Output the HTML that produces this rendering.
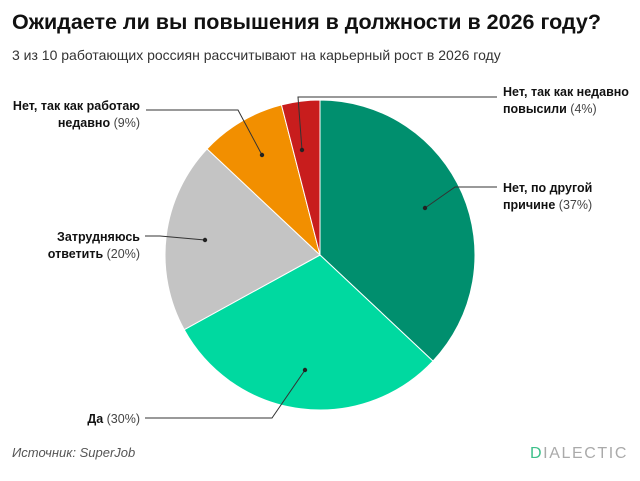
<!DOCTYPE html>
<html><head><meta charset="utf-8"><style>
body{margin:0;background:#fff;width:640px;height:476px;overflow:hidden;font-family:"Liberation Sans",sans-serif}
svg text{font-family:"Liberation Sans",sans-serif}
</style></head><body>
<svg width="640" height="476">
<text x="12" y="29" font-size="21.5" font-weight="bold" fill="#111">Ожидаете ли вы повышения в должности в 2026 году?</text>
<text x="12" y="60" font-size="14" fill="#333">3 из 10 работающих россиян рассчитывают на карьерный рост в 2026 году</text>
<g id="pie"></g>
<g id="labels"></g>
<text x="12" y="457" font-size="13" font-style="italic" fill="#555">Источник: SuperJob</text>
<text x="530" y="458" font-size="16" letter-spacing="1.6" fill="#aaa"><tspan fill="#3cc08a">D</tspan>IALECTIC</text>
</svg>
<script>
const categories=["Нет, по другой причине","Да","Затрудняюсь ответить","Нет, так как работаю недавно","Нет, так как недавно повысили"];
const values=[37,30,20,9,4];
const colors=["#008f6e","#00d9a0","#c4c4c4","#f28f00","#c81d1d"];
const cx=320,cy=255,r=155;
const ns="http://www.w3.org/2000/svg";
const pie=document.getElementById('pie');
const total=values.reduce((a,b)=>a+b,0);
let a0=0;
function pt(a,rr){return [cx+rr*Math.sin(a),cy-rr*Math.cos(a)];}
values.forEach((v,i)=>{
  const a1=a0+v/total*2*Math.PI;
  const p0=pt(a0,r),p1=pt(a1,r);
  const large=(a1-a0)>Math.PI?1:0;
  const p=document.createElementNS(ns,'path');
  p.setAttribute('d',`M${cx},${cy}L${p0[0]},${p0[1]}A${r},${r} 0 ${large} 1 ${p1[0]},${p1[1]}Z`);
  p.setAttribute('fill',colors[i]);p.setAttribute('stroke','#fff');p.setAttribute('stroke-width','1');
  
  
  pie.appendChild(p);
  a0=a1;
});
const lab=document.getElementById('labels');
const L=[
 {pts:"425,208 455,187 497,187",lines:[["Нет, по другой",""],["причине"," ("+values[0]+"%)"]],x:503,y:192,anchor:"start"},
 {pts:"305,370 272,418 145,418",lines:[["Да"," ("+values[1]+"%)"]],x:140,y:423,anchor:"end"},
 {pts:"205,240 160,236 145,236",lines:[["Затрудняюсь",""],["ответить"," ("+values[2]+"%)"]],x:140,y:241,anchor:"end"},
 {pts:"262,155 238,110 146,110",lines:[["Нет, так как работаю",""],["недавно"," ("+values[3]+"%)"]],x:140,y:110,anchor:"end"},
 {pts:"302,150 298,97 497,97",lines:[["Нет, так как недавно",""],["повысили"," ("+values[4]+"%)"]],x:503,y:96,anchor:"start"}
];
L.forEach((l,i)=>{
  const pl=document.createElementNS(ns,'polyline');
  pl.setAttribute('points',l.pts);pl.setAttribute('fill','none');pl.setAttribute('stroke','#333');pl.setAttribute('stroke-width','1');
  
  
  lab.appendChild(pl);
  const d=l.pts.split(' ')[0].split(',');
  const c=document.createElementNS(ns,'circle');
  c.setAttribute('cx',d[0]);c.setAttribute('cy',d[1]);c.setAttribute('r','2.2');c.setAttribute('fill','#222');
  
  
  lab.appendChild(c);
  l.lines.forEach((ln,j)=>{
    const t=document.createElementNS(ns,'text');
    t.setAttribute('x',l.x);t.setAttribute('y',l.y+j*17);t.setAttribute('font-size','12.5');t.setAttribute('text-anchor',l.anchor);t.setAttribute('fill','#111');
    
    
    t.innerHTML='<tspan font-weight="bold">'+ln[0]+'</tspan><tspan fill="#444">'+ln[1]+'</tspan>';
    lab.appendChild(t);
  });
});
</script>
</body></html>
